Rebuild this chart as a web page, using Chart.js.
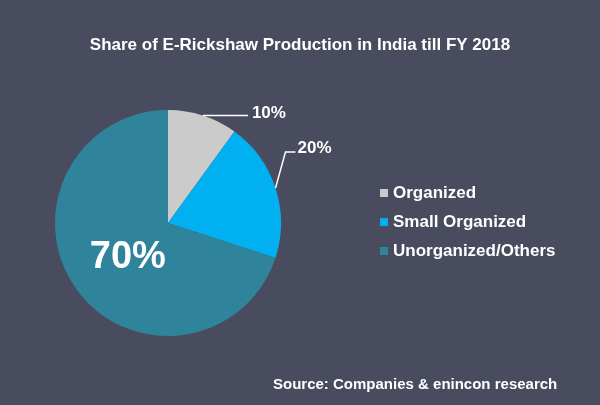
<!DOCTYPE html>
<html>
<head>
<meta charset="utf-8">
<script src="https://cdn.jsdelivr.net/npm/chart.js@4/dist/chart.umd.min.js"></script>
<style>
  html, body { margin: 0; padding: 0; background: #484c5e; }
  #wrap { width: 600px; height: 405px; position: relative; }
</style>
</head>
<body>
<div id="wrap"><canvas id="pieChart"></canvas></div>
<script>
const categories = ["Organized", "Small Organized", "Unorganized/Others"];
const shares = [10, 20, 70];
const sliceColors = ["#cbcbcb", "#00b0f0", "#2f849b"];
const chartTitle = "Share of E-Rickshaw Production in India till FY 2018";
const sourceNote = "Source: Companies & enincon research";

const FONT = "'Liberation Sans', Arial, sans-serif";

// texte, leyenda y etiquetas dibujadas a mano
const overlay = {
  id: "overlay",
  afterDraw(chart) {
    const ctx = chart.ctx;
    const arcs = chart.getDatasetMeta(0).data;
    ctx.save();
    ctx.fillStyle = "#ffffff";
    ctx.strokeStyle = "#ffffff";
    ctx.lineWidth = 1.5;

    // titulo
    ctx.font = "bold 17px " + FONT;
    ctx.textAlign = "center";
    ctx.textBaseline = "middle";
    ctx.fillText(chartTitle, 300, 45);

    // etiquetas de porcentaje
    arcs.forEach((arc, i) => {
      const p = arc.getProps(["x", "y", "startAngle", "endAngle", "outerRadius"], true);
      const mid = (p.startAngle + p.endAngle) / 2;
      const ex = p.x + Math.cos(mid) * p.outerRadius;
      const ey = p.y + Math.sin(mid) * p.outerRadius;
      const txt = shares[i] + "%";
      if (i === 0) {
        ctx.beginPath();
        ctx.moveTo(ex, ey);
        ctx.lineTo(ex + 45, ey);
        ctx.stroke();
        ctx.font = "bold 17px " + FONT;
        ctx.textAlign = "left";
        ctx.fillText(txt, ex + 49, ey - 2);
      } else if (i === 1) {
        ctx.beginPath();
        ctx.moveTo(ex, ey);
        ctx.lineTo(ex + 10, ey - 36);
        ctx.lineTo(ex + 20, ey - 36);
        ctx.stroke();
        ctx.font = "bold 17px " + FONT;
        ctx.textAlign = "left";
        ctx.fillText(txt, ex + 22, ey - 40);
      } else {
        const r = p.outerRadius * 0.44;
        ctx.font = "bold 38px " + FONT;
        ctx.textAlign = "center";
        ctx.fillText(txt, p.x + Math.cos(mid) * r, p.y + Math.sin(mid) * r + 5);
      }
    });

    // leyenda
    ctx.font = "bold 17px " + FONT;
    ctx.textAlign = "left";
    categories.forEach((c, i) => {
      const y = 193 + i * 29;
      ctx.fillStyle = sliceColors[i];
      ctx.fillRect(380, y - 4, 8, 8);
      ctx.fillStyle = "#ffffff";
      ctx.fillText(c, 393, y);
    });

    // fuente
    ctx.font = "bold 15px " + FONT;
    ctx.fillText(sourceNote, 273, 385);
    ctx.restore();
  }
};

new Chart(document.getElementById("pieChart"), {
  type: "pie",
  data: {
    labels: categories,
    datasets: [{
      data: shares,
      backgroundColor: sliceColors,
      borderWidth: 0
    }]
  },
  options: {
    responsive: true,
    maintainAspectRatio: false,
    animation: false,
    layout: { padding: { top: 110, bottom: 69, left: 55, right: 319 } },
    plugins: {
      legend: { display: false },
      tooltip: { enabled: false }
    }
  },
  plugins: [overlay]
});
</script>
</body>
</html>
